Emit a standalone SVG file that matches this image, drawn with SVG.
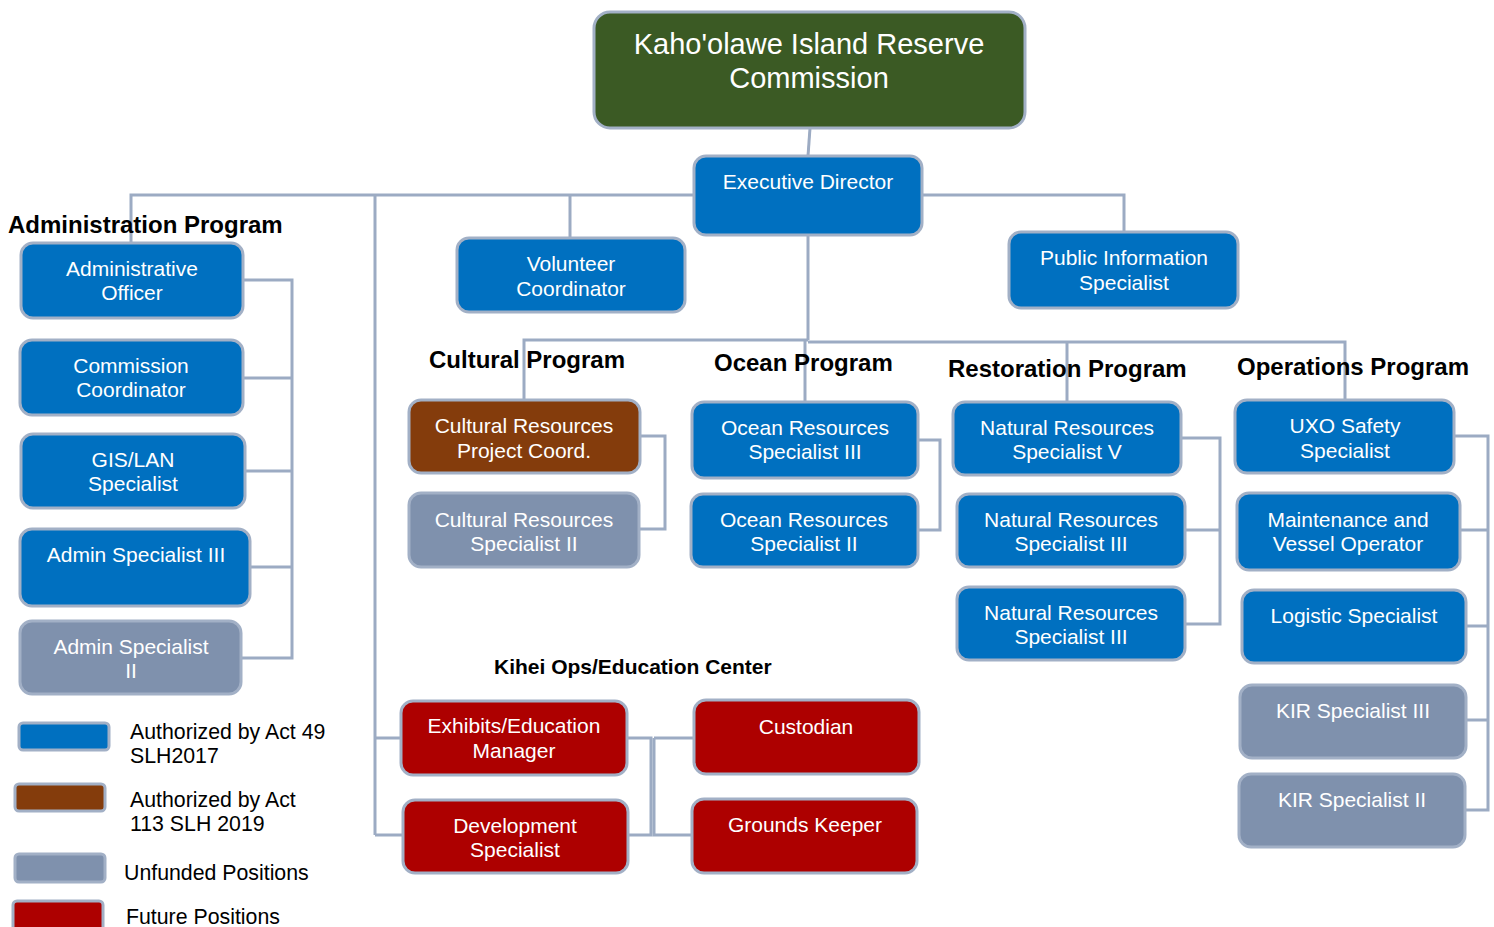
<svg xmlns="http://www.w3.org/2000/svg" width="1494" height="927" viewBox="0 0 1494 927">
<style>
.c{fill:none;stroke:#9CABC3;stroke-width:3}
.n{stroke:#A2B0C6;stroke-width:3}
.b{fill:#0070C0}
.g{fill:#7F91AD}
.br{fill:#843C0C}
.r{fill:#AD0000}
.gr{fill:#3B5A24}
.t{font-family:"Liberation Sans",Arial,sans-serif;font-size:21px;fill:#fff;text-anchor:middle}
.h{font-family:"Liberation Sans",Arial,sans-serif;font-size:24px;font-weight:bold;fill:#000}
.l{font-family:"Liberation Sans",Arial,sans-serif;font-size:21.3px;fill:#000}
</style>
<rect width="1494" height="927" fill="#fff"/>
<g id="connectors">
<path class="c" d="M810,128 L808,156"/>
<path class="c" d="M694,195 H131 V243"/>
<path class="c" d="M375,195 V835"/>
<path class="c" d="M570,195 V238"/>
<path class="c" d="M922,195 H1124 V232"/>
<path class="c" d="M808,235 V340"/>
<path class="c" d="M524,400 V340 H808"/>
<path class="c" d="M805,340 V402"/>
<path class="c" d="M808,342 H1345 V400"/>
<path class="c" d="M1067,342 V402"/>
<path class="c" d="M243,280 H292 V658 H241"/>
<path class="c" d="M243,378 H292 M245,471 H292 M250,567 H292"/>
<path class="c" d="M640,436 H665 V529 H639"/>
<path class="c" d="M918,440 H940 V530 H918"/>
<path class="c" d="M1181,438 H1220 V624 H1185 M1185,530 H1220"/>
<path class="c" d="M1454,436 H1488 V810 H1465 M1460,530 H1488 M1466,626 H1488 M1466,720 H1488"/>
<path class="c" d="M375,738 H401 M375,835 H403"/>
<path class="c" d="M627,738 H651 V835 H628"/>
<path class="c" d="M654,738 H694 M654,738 V835 H692"/>
</g>
<g id="headers">
<text class="h" x="8" y="233">Administration Program</text>
<text class="h" x="429" y="368">Cultural Program</text>
<text class="h" x="714" y="371">Ocean Program</text>
<text class="h" x="948" y="377">Restoration Program</text>
<text class="h" x="1237" y="375">Operations Program</text>
<text class="h" x="494" y="674" style="font-size:21px">Kihei Ops/Education Center</text>
</g>
<g id="commission"><rect class="n gr" x="594" y="12" width="431" height="116" rx="16"/><text class="t" x="809" y="54" style="font-size:29px">Kaho'olawe Island Reserve</text><text class="t" x="809" y="88" style="font-size:29px">Commission</text></g>
<g id="executive-director"><rect class="n b" x="694" y="156" width="228" height="79" rx="12"/><text class="t" x="808" y="189">Executive Director</text></g>
<g id="volunteer"><rect class="n b" x="457" y="238" width="228" height="74" rx="12"/><text class="t" x="571" y="271">Volunteer</text><text class="t" x="571" y="296">Coordinator</text></g>
<g id="pis"><rect class="n b" x="1009" y="232" width="229" height="76" rx="12"/><text class="t" x="1124" y="265">Public Information</text><text class="t" x="1124" y="290">Specialist</text></g>
<g id="admin-officer"><rect class="n b" x="21" y="243" width="222" height="75" rx="12"/><text class="t" x="132" y="276">Administrative</text><text class="t" x="132" y="300">Officer</text></g>
<g id="commission-coordinator"><rect class="n b" x="20" y="340" width="223" height="75" rx="12"/><text class="t" x="131" y="373">Commission</text><text class="t" x="131" y="397">Coordinator</text></g>
<g id="gis-lan"><rect class="n b" x="21" y="434" width="224" height="74" rx="12"/><text class="t" x="133" y="467">GIS/LAN</text><text class="t" x="133" y="491">Specialist</text></g>
<g id="admin-spec-3"><rect class="n b" x="20" y="529" width="230" height="77" rx="12"/><text class="t" x="136" y="562">Admin Specialist III</text></g>
<g id="admin-spec-2"><rect class="n g" x="20" y="621" width="221" height="73" rx="12"/><text class="t" x="131" y="654">Admin Specialist</text><text class="t" x="131" y="678">II</text></g>
<g id="crpc"><rect class="n br" x="409" y="400" width="231" height="73" rx="12"/><text class="t" x="524" y="433">Cultural Resources</text><text class="t" x="524" y="458">Project Coord.</text></g>
<g id="crs2"><rect class="n g" x="409" y="493" width="230" height="74" rx="12"/><text class="t" x="524" y="527">Cultural Resources</text><text class="t" x="524" y="551">Specialist II</text></g>
<g id="ors3"><rect class="n b" x="692" y="402" width="226" height="76" rx="12"/><text class="t" x="805" y="435">Ocean Resources</text><text class="t" x="805" y="459">Specialist III</text></g>
<g id="ors2"><rect class="n b" x="691" y="494" width="227" height="73" rx="12"/><text class="t" x="804" y="527">Ocean Resources</text><text class="t" x="804" y="551">Specialist II</text></g>
<g id="nrs5"><rect class="n b" x="953" y="402" width="228" height="73" rx="12"/><text class="t" x="1067" y="435">Natural Resources</text><text class="t" x="1067" y="459">Specialist V</text></g>
<g id="nrs3a"><rect class="n b" x="957" y="494" width="228" height="73" rx="12"/><text class="t" x="1071" y="527">Natural Resources</text><text class="t" x="1071" y="551">Specialist III</text></g>
<g id="nrs3b"><rect class="n b" x="957" y="587" width="228" height="73" rx="12"/><text class="t" x="1071" y="620">Natural Resources</text><text class="t" x="1071" y="644">Specialist III</text></g>
<g id="uxo"><rect class="n b" x="1235" y="400" width="219" height="73" rx="12"/><text class="t" x="1345" y="433">UXO Safety</text><text class="t" x="1345" y="458">Specialist</text></g>
<g id="maintenance"><rect class="n b" x="1237" y="493" width="223" height="77" rx="12"/><text class="t" x="1348" y="527">Maintenance and</text><text class="t" x="1348" y="551">Vessel Operator</text></g>
<g id="logistic"><rect class="n b" x="1242" y="590" width="224" height="73" rx="12"/><text class="t" x="1354" y="623">Logistic Specialist</text></g>
<g id="kir3"><rect class="n g" x="1240" y="685" width="226" height="73" rx="12"/><text class="t" x="1353" y="718">KIR Specialist III</text></g>
<g id="kir2"><rect class="n g" x="1239" y="774" width="226" height="73" rx="12"/><text class="t" x="1352" y="807">KIR Specialist II</text></g>
<g id="exhibits"><rect class="n r" x="401" y="701" width="226" height="74" rx="12"/><text class="t" x="514" y="733">Exhibits/Education</text><text class="t" x="514" y="758">Manager</text></g>
<g id="development"><rect class="n r" x="403" y="800" width="225" height="73" rx="12"/><text class="t" x="515" y="833">Development</text><text class="t" x="515" y="857">Specialist</text></g>
<g id="custodian"><rect class="n r" x="694" y="700" width="225" height="74" rx="12"/><text class="t" x="806" y="734">Custodian</text></g>
<g id="grounds"><rect class="n r" x="692" y="799" width="225" height="74" rx="12"/><text class="t" x="805" y="832">Grounds Keeper</text></g>
<g id="legend">
<rect class="n b" x="19" y="723" width="90" height="27" rx="4"/>
<text class="l" x="130" y="739">Authorized by Act 49</text><text class="l" x="130" y="763">SLH2017</text>
<rect class="n br" x="15" y="784" width="90" height="27" rx="4"/>
<text class="l" x="130" y="807">Authorized by Act</text><text class="l" x="130" y="831">113 SLH 2019</text>
<rect class="n g" x="15" y="854" width="90" height="28" rx="4"/>
<text class="l" x="124" y="880">Unfunded Positions</text>
<rect class="n r" x="13" y="901" width="90" height="34" rx="4"/>
<text class="l" x="126" y="924">Future Positions</text>
</g>
</svg>
